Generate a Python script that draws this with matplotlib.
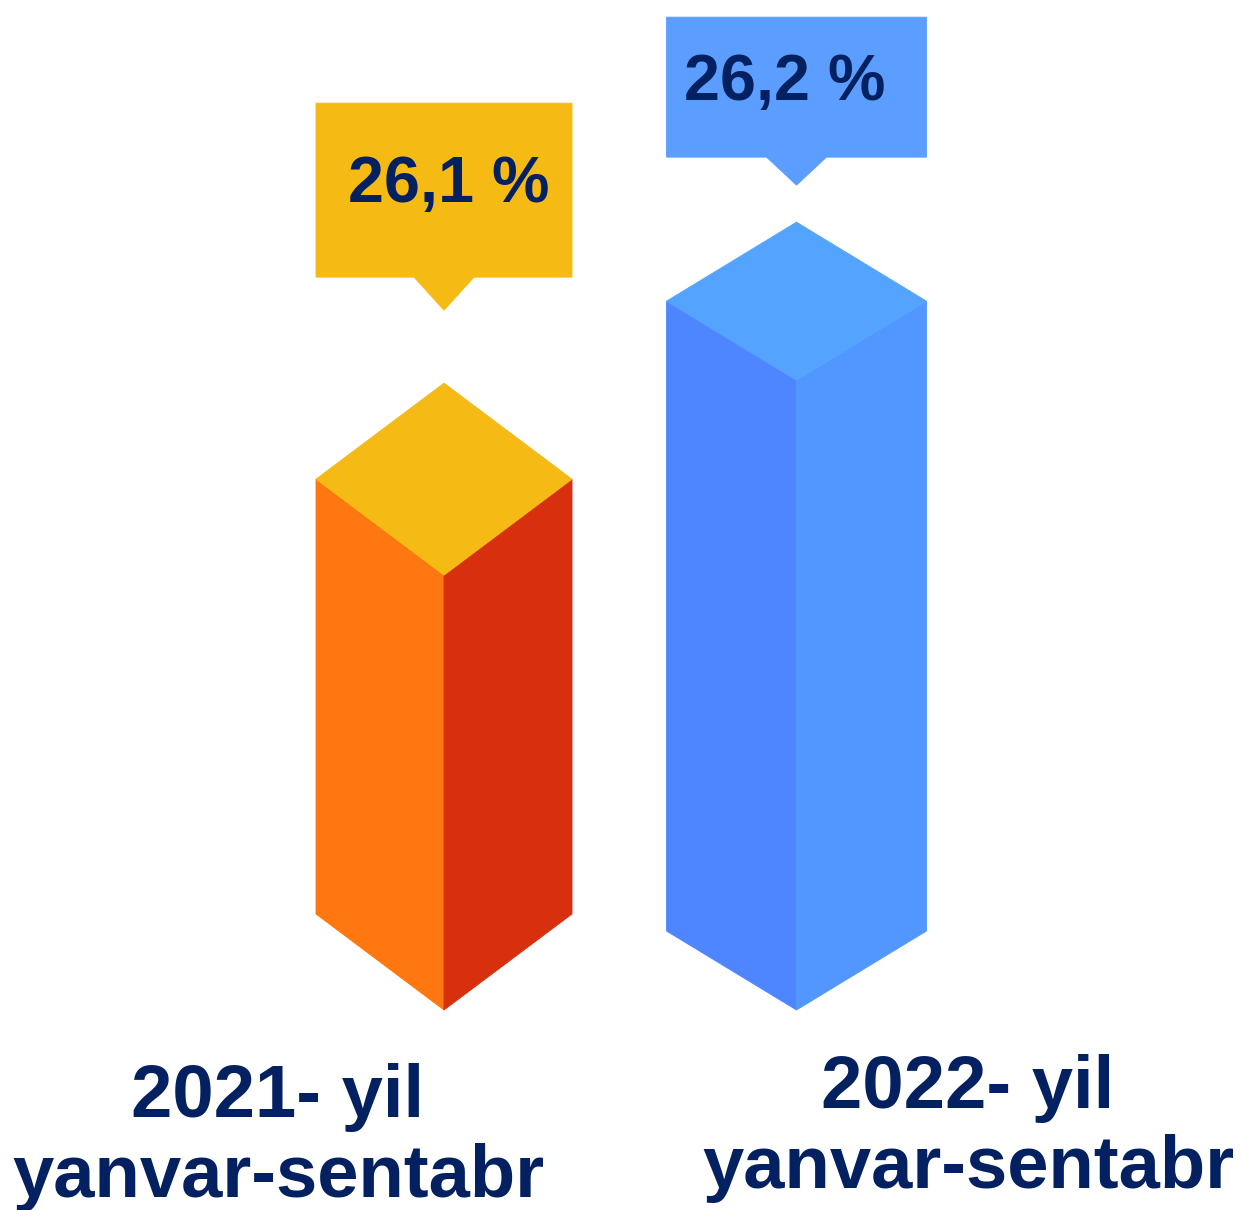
import matplotlib
matplotlib.use("Agg")
import matplotlib.pyplot as plt
from matplotlib.patches import Polygon

# data
periods = ["2021- yil\nyanvar-sentabr", "2022- yil\nyanvar-sentabr"]
values = [26.1, 26.2]
value_labels = ["26,1 %", "26,2 %"]

# styling
left_colors = ["#FE7711", "#4E86FF"]
right_colors = ["#D8300E", "#5297FF"]
top_colors = ["#F5BA14", "#54A4FF"]
callout_colors = ["#F5BA14", "#5C9EFF"]
text_color = "#032160"

W, H = 1242, 1210
K = 1950.0        # pixels per percentage point (truncated axis)
BASE = 25.877     # value at the bars' bottom vertex
BOTTOM_PX = 1010  # pixel row of the bottom vertex

centers = [444, 796.5]
half_w = [128, 130]
depth_px = [96, 79]
tip_gap_px = [73, 37]
notch_px = [33, 28]
box_h_px = [174, 140]
label_dx = [5, -12]
label_base_px = [75, 57]
period_xy = [(278, 1197), (968, 1188)]

plt.rcParams["font.family"] = ["Liberation Sans", "DejaVu Sans"]

fig = plt.figure(figsize=(W / 100, H / 100), dpi=100)
ax = fig.add_axes([0, 0, 1, 1])
ax.set_xlim(0, W)
ax.set_ylim(BASE - (H - BOTTOM_PX) / K, BASE + BOTTOM_PX / K)
ax.axis("off")


def face(pts, color):
    ax.add_patch(Polygon(pts, closed=True, facecolor=color, edgecolor=color,
                         linewidth=0.6, joinstyle="miter"))


for i, v in enumerate(values):
    c, w = centers[i], half_w[i]
    d = depth_px[i] / K
    # front-left, front-right and top faces of the isometric column
    face([(c - w, v + d), (c, v), (c, BASE), (c - w, BASE + d)], left_colors[i])
    face([(c, v), (c + w, v + d), (c + w, BASE + d), (c, BASE)], right_colors[i])
    face([(c, v + 2 * d), (c - w, v + d), (c, v), (c + w, v + d)], top_colors[i])

    # callout box with pointer
    tip = v + 2 * d + tip_gap_px[i] / K
    bot = tip + notch_px[i] / K
    top = bot + box_h_px[i] / K
    nh = 30
    face([(c - w, top), (c + w, top), (c + w, bot), (c + nh, bot), (c, tip),
          (c - nh, bot), (c - w, bot)], callout_colors[i])
    ax.text(c + label_dx[i], bot + label_base_px[i] / K, value_labels[i],
            ha="center", va="baseline", fontsize=46.5, fontweight="bold",
            color=text_color)

for (x, y), lab in zip(period_xy, periods):
    fig.text(x / W, 1 - y / H, lab, ha="center", va="baseline",
             fontsize=53.5, fontweight="bold", color=text_color,
             linespacing=1.2, multialignment="center")

fig.savefig("out.png", dpi=100, facecolor="white")
